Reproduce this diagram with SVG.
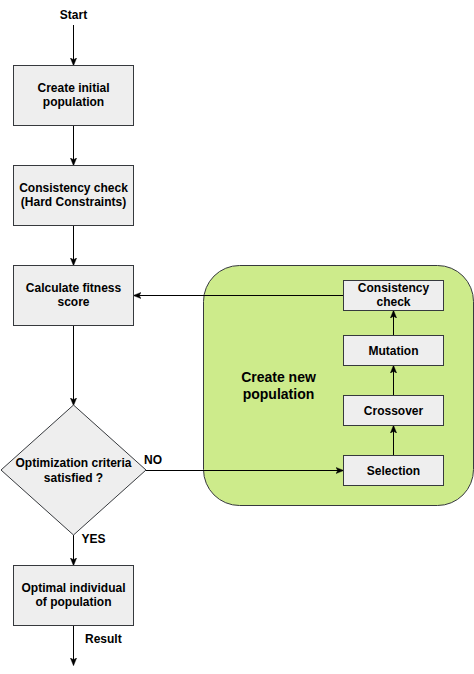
<svg xmlns="http://www.w3.org/2000/svg" width="474" height="674" viewBox="0 0 474 674">
<defs>
<marker id="arr" viewBox="0 0 10 10" refX="9" refY="5" markerWidth="8" markerHeight="8" orient="auto" markerUnits="userSpaceOnUse">
<path d="M0,1 L10,5 L0,9 L2.5,5 z" fill="#000" stroke="#000" stroke-width="0.5"/>
</marker>
<style>
.box{fill:#eeeeee;stroke:#36393d;stroke-width:1}
.grp{fill:#cdeb8b;stroke:#36393d;stroke-width:1}
.t{font-family:"Liberation Sans",Arial,sans-serif;font-size:12px;font-weight:bold;fill:#000;text-anchor:middle}
.lbl{font-family:"Liberation Sans",Arial,sans-serif;font-size:12px;font-weight:bold;fill:#000}
.big{font-family:"Liberation Sans",Arial,sans-serif;font-size:14px;font-weight:bold;fill:#000;text-anchor:middle}
.c{fill:none;stroke:#000;stroke-width:1;marker-end:url(#arr)}
</style>
</defs>
<rect width="474" height="674" fill="#ffffff"/>
<g id="group-new-population">
<rect class="grp" x="203.5" y="265.5" width="270" height="240" rx="36" ry="36"/>
<text class="big" x="278.5" y="382">Create new</text>
<text class="big" x="278.5" y="399">population</text>
</g>
<g id="connectors">
<path class="c" d="M73.5,25 V65"/>
<path class="c" d="M73.5,125.5 V165"/>
<path class="c" d="M73.5,225.5 V265"/>
<path class="c" d="M73.5,325.5 V405"/>
<path class="c" d="M73.5,535 V565"/>
<path class="c" d="M73.5,625.5 V665"/>
<path class="c" d="M146,470.5 H343"/>
<path class="c" d="M343.5,295.5 H134"/>
<path class="c" d="M393.5,455.5 V426"/>
<path class="c" d="M393.5,395.5 V366"/>
<path class="c" d="M393.5,335.5 V311"/>
<text class="t" x="73.5" y="19">Start</text>
<text class="lbl" x="144" y="464">NO</text>
<text class="lbl" x="81.5" y="543">YES</text>
<text class="lbl" x="85" y="643">Result</text>
</g>
<g id="create-initial">
<rect class="box" x="13.5" y="65.5" width="120" height="60"/>
<text class="t" x="73.5" y="92">Create initial</text>
<text class="t" x="73.5" y="106">population</text>
</g>
<g id="consistency-hard">
<rect class="box" x="13.5" y="165.5" width="120" height="60"/>
<text class="t" x="73.5" y="192">Consistency check</text>
<text class="t" x="73.5" y="206">(Hard Constraints)</text>
</g>
<g id="fitness">
<rect class="box" x="13.5" y="265.5" width="120" height="60"/>
<text class="t" x="73.5" y="292">Calculate fitness</text>
<text class="t" x="73.5" y="306">score</text>
</g>
<g id="criteria">
<polygon class="box" points="73.5,405 146,470 73.5,535 1,470"/>
<text class="t" x="73.5" y="467">Optimization criteria</text>
<text class="t" x="73.5" y="482">satisfied ?</text>
</g>
<g id="optimal">
<rect class="box" x="13.5" y="565.5" width="120" height="60"/>
<text class="t" x="73.5" y="592">Optimal individual</text>
<text class="t" x="73.5" y="606">of population</text>
</g>
<g id="consistency-check">
<rect class="box" x="343.5" y="280.5" width="100" height="30"/>
<text class="t" x="393.5" y="292">Consistency</text>
<text class="t" x="393.5" y="306">check</text>
</g>
<g id="mutation">
<rect class="box" x="343.5" y="335.5" width="100" height="30"/>
<text class="t" x="393.5" y="355">Mutation</text>
</g>
<g id="crossover">
<rect class="box" x="343.5" y="395.5" width="100" height="30"/>
<text class="t" x="393.5" y="415">Crossover</text>
</g>
<g id="selection">
<rect class="box" x="343.5" y="455.5" width="100" height="30"/>
<text class="t" x="393.5" y="475">Selection</text>
</g>
</svg>
